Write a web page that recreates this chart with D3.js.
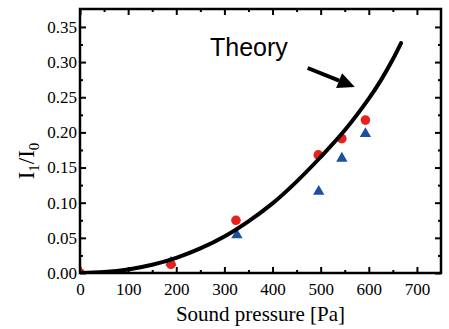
<!DOCTYPE html>
<html>
  <head>
    <script type="text/javascript" src="https://cdn.jsdelivr.net/npm/d3@7"></script>
    <style>
      body { margin: 0; background: #fff; }
      .tick text { font-family: "Liberation Serif", "Times New Roman", Times, serif; font-size: 17px; fill: #000; }
      .serif { font-family: "Liberation Serif", "Times New Roman", Times, serif; }
    </style>
  </head>
  <body>
    <script type="text/javascript">
      WIDTH = 449
      HEIGHT = 329
      MARGIN = {top: 9, right: 8, bottom: 56, left: 80}

      // measured points (red circles and blue triangles)
      var redPressure = [0, 189, 324, 495, 544, 593]
      var redRatio = [0, 0.0124, 0.075, 0.168, 0.191, 0.2175]
      var bluePressure = [0, 189, 326, 496, 544, 593]
      var blueRatio = [0, 0.015, 0.054, 0.116, 0.163, 0.198]

      // theory curve
      var theoryPressure = [0, 50, 100, 150, 200, 250, 300, 350, 400, 450, 500, 550, 600, 625, 650, 667]
      var theoryRatio = [0, 0.0013, 0.005, 0.0117, 0.0216, 0.035, 0.052, 0.0735, 0.099, 0.130, 0.165, 0.203, 0.248, 0.274, 0.304, 0.327]

      // tick labels
      var xTicks = [0, 100, 200, 300, 400, 500, 600, 700]
      var yTicks = [0, 0.05, 0.10, 0.15, 0.20, 0.25, 0.30, 0.35]

      var w = WIDTH - MARGIN.left - MARGIN.right
      var h = HEIGHT - MARGIN.top - MARGIN.bottom

      var svg = d3.select("body").append("svg")
        .attr("width", WIDTH)
        .attr("height", HEIGHT)

      var g = svg.append("g").attr("transform", "translate(" + MARGIN.left + "," + MARGIN.top + ")")

      var x = d3.scaleLinear().domain([0, 750]).range([0, w])
      var y = d3.scaleLinear().domain([0, 0.3755]).range([h, 0])

      g.append("clipPath").attr("id", "plotclip")
        .append("rect").attr("width", w).attr("height", h)

      // minor ticks, all four sides, pointing inward
      var xMinor = d3.range(50, 750, 100)
      var yMinor = d3.range(0.025, 0.375, 0.05)

      function axisStyle(sel) {
        sel.attr("font-family", null).attr("font-size", null)
        sel.select(".domain").remove()
        sel.selectAll(".tick line").attr("stroke", "#000").attr("stroke-width", 2)
      }

      g.append("g").attr("transform", "translate(0," + h + ")")
        .call(d3.axisBottom(x).tickValues(xTicks).tickSize(-6).tickPadding(10).tickFormat(d3.format("d")))
        .call(axisStyle)
      g.append("g").attr("transform", "translate(0," + h + ")")
        .call(d3.axisBottom(x).tickValues(xMinor).tickSize(-3).tickFormat(""))
        .call(axisStyle)
      g.append("g")
        .call(d3.axisTop(x).tickValues(xTicks).tickSize(-6).tickFormat(""))
        .call(axisStyle)
      g.append("g")
        .call(d3.axisTop(x).tickValues(xMinor).tickSize(-3).tickFormat(""))
        .call(axisStyle)

      g.append("g")
        .call(d3.axisLeft(y).tickValues(yTicks).tickSize(-6).tickPadding(3).tickFormat(d3.format(".2f")))
        .call(axisStyle)
      g.append("g")
        .call(d3.axisLeft(y).tickValues(yMinor).tickSize(-3).tickFormat(""))
        .call(axisStyle)
      g.append("g").attr("transform", "translate(" + w + ",0)")
        .call(d3.axisRight(y).tickValues(yTicks).tickSize(-6).tickFormat(""))
        .call(axisStyle)
      g.append("g").attr("transform", "translate(" + w + ",0)")
        .call(d3.axisRight(y).tickValues(yMinor).tickSize(-3).tickFormat(""))
        .call(axisStyle)

      var plot = g.append("g").attr("clip-path", "url(#plotclip)")

      // blue triangles
      plot.selectAll(".tri").data(bluePressure).enter()
        .append("path").attr("class", "tri")
        .attr("d", d3.symbol().type(d3.symbolTriangle).size(56))
        .attr("transform", function(d, i) { return "translate(" + x(d) + "," + y(blueRatio[i]) + ")" })
        .attr("fill", "#1d4fa0")

      // red circles
      plot.selectAll(".dot").data(redPressure).enter()
        .append("circle").attr("class", "dot")
        .attr("cx", function(d) { return x(d) })
        .attr("cy", function(d, i) { return y(redRatio[i]) })
        .attr("r", 4.8)
        .attr("fill", "#e8211d")

      // theory curve
      var line = d3.line()
        .x(function(d) { return x(d) })
        .y(function(d, i) { return y(theoryRatio[i]) })
        .curve(d3.curveCatmullRom)
      plot.append("path").datum(theoryPressure)
        .attr("d", line)
        .attr("fill", "none")
        .attr("stroke", "#000")
        .attr("stroke-width", 4)
        .attr("stroke-linecap", "round")

      // frame
      g.append("rect").attr("width", w).attr("height", h)
        .attr("fill", "none").attr("stroke", "#000").attr("stroke-width", 2.5)

      // annotation
      g.append("text")
        .attr("x", x(270)).attr("y", y(0.308))
        .attr("font-family", "'Liberation Sans', Arial, sans-serif")
        .attr("font-size", 25)
        .text("Theory")

      var ax0 = x(473), ay0 = y(0.2916), ax1 = x(571), ay1 = y(0.2645)
      var ang = Math.atan2(ay1 - ay0, ax1 - ax0)
      var headLen = 17, headW = 8
      var bx = ax1 - headLen * Math.cos(ang), by = ay1 - headLen * Math.sin(ang)
      g.append("line")
        .attr("x1", ax0).attr("y1", ay0).attr("x2", bx).attr("y2", by)
        .attr("stroke", "#000").attr("stroke-width", 4)
      g.append("polygon")
        .attr("points", [
          [ax1, ay1],
          [bx + headW * Math.sin(ang), by - headW * Math.cos(ang)],
          [bx - headW * Math.sin(ang), by + headW * Math.cos(ang)]
        ].map(function(p) { return p.join(",") }).join(" "))
        .attr("fill", "#000")

      // axis titles
      svg.append("text").attr("class", "serif")
        .attr("x", MARGIN.left + w / 2).attr("y", 321)
        .attr("text-anchor", "middle")
        .attr("font-size", 21)
        .text("Sound pressure [Pa]")

      var yt = svg.append("text").attr("class", "serif")
        .attr("transform", "translate(34," + (MARGIN.top + h / 2 + 20) + ") rotate(-90)")
        .attr("text-anchor", "middle")
        .attr("font-size", 23)
      yt.append("tspan").text("I")
      yt.append("tspan").attr("font-size", 15).attr("dy", 5).text("1")
      yt.append("tspan").attr("dy", -5).text("/I")
      yt.append("tspan").attr("font-size", 15).attr("dy", 5).text("0")
    </script>
  </body>
</html>
